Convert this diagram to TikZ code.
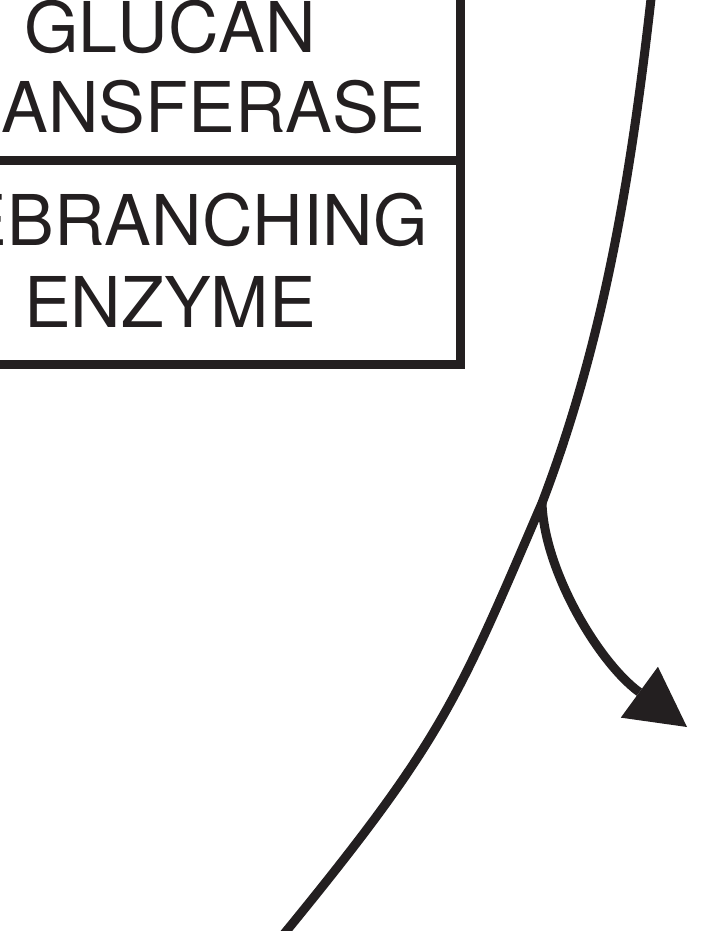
\documentclass[tikz,border=0pt]{standalone}
\usepackage{fontspec}
\setmainfont[Kerning=Off]{TeX Gyre Heros}
\usetikzlibrary{arrows.meta}
\definecolor{ink}{HTML}{231F20}
\tikzset{
  boxline/.style={draw=ink, line width=9pt, line join=miter},
  label/.style={anchor=base, inner sep=0pt, text=ink, font=\fontsize{70}{80}\selectfont},
  curveline/.style={draw=ink, line width=9pt},
  branch/.style={draw=ink, line width=9pt, -{Triangle[length=59pt,width=63pt,line width=0pt]}}
}
\begin{document}
\begin{tikzpicture}[x=1pt,y=-1pt]
\useasboundingbox (0,0) rectangle (709,931);
\clip (0,0) rectangle (709,931);
\fill[white] (0,0) rectangle (709,931);
% enzyme box (cut by the picture edge)
\draw[boxline] (-122,-100) rectangle (460,364);
\draw[boxline] (-122,160) -- (460,160);
\node[label] (glucan) at (170,53) {GLUCAN};
\node[label] (transferase) at (167,132) {TRANSFERASE};
\node[label] (debranching) at (169,245) {DEBRANCHING};
\node[label] (enzyme) at (170,327) {ENZYME};
% main curve
\coordinate (top) at (652,-10);
\coordinate (j) at (542,503);
\coordinate (bottom) at (279,940);
\draw[curveline] (top) .. controls (633,160) and (607,333) .. (j)
                       .. controls (456,703) and (443,740) .. (bottom);
% branch arrow
\coordinate (tip) at (687,727);
\draw[branch] (j) .. controls (544,570) and (598,662) .. (tip);
\end{tikzpicture}
\end{document}
